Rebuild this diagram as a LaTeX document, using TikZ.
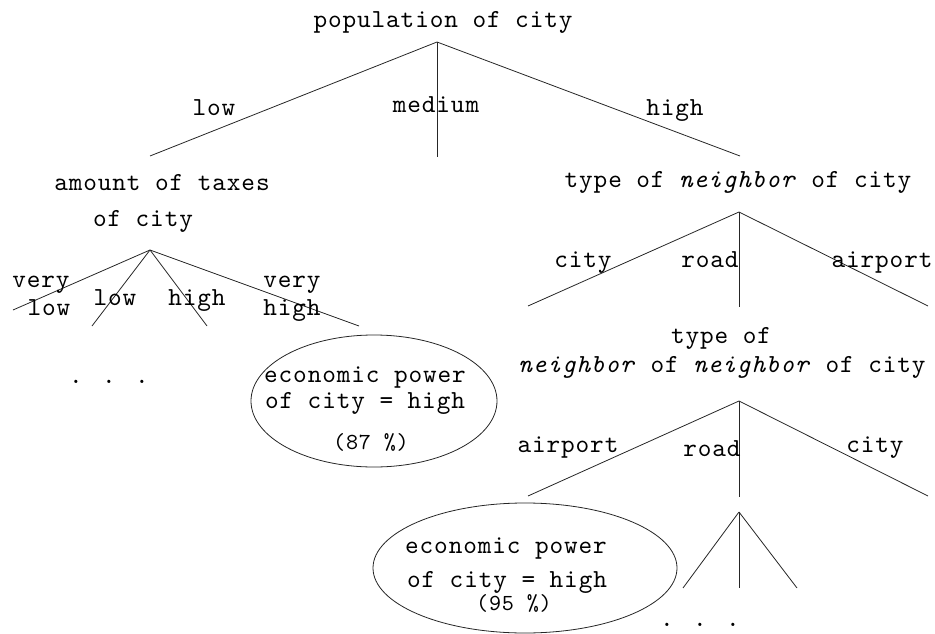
\documentclass[tikz,border=0pt]{standalone}
\usepackage{fontspec}
\newfontfamily\cour{lmmono10-regular.otf}[ItalicFont=lmmono10-italic.otf, LetterSpace=3.4]
\usetikzlibrary{shapes.geometric}
\begin{document}
\begin{tikzpicture}[x=1pt,y=-1pt,
  txt/.style={inner sep=0pt, text height=15pt, text depth=5pt, font=\cour\fontsize{26}{29}\selectfont},
  stxt/.style={inner sep=0pt, text height=14pt, text depth=5pt, font=\cour\fontsize{23}{26}\selectfont},
  edge/.style={draw=black!85, line width=0.8pt},
  leaf/.style={draw=black!85, line width=0.8pt, ellipse, inner sep=0pt}]
\useasboundingbox (0,0) rectangle (935,634);
% root
\node[txt] (root) at (443,23) {population of city};
\coordinate (r) at (437,42);
\coordinate (rL) at (150,156);
\coordinate (rM) at (437,157);
\coordinate (rR) at (740,156);
\draw[edge] (r) -- (rL);
\draw[edge] (r) -- (rM);
\draw[edge] (r) -- (rR);
\node[txt] (lblow) at (214,111) {low};
\node[txt] (lbmed) at (436,107) {medium};
\node[txt] (lbhigh) at (675,111) {high};
% left subtree
\node[txt] (tax1) at (162,185) {amount of taxes};
\node[txt] (tax2) at (143,221) {of city};
\coordinate (t) at (150,250);
\coordinate (tVL) at (13,310);
\coordinate (tL) at (92,326);
\coordinate (tH) at (207,326);
\coordinate (tVH) at (359,326);
\draw[edge] (t) -- (tVL);
\draw[edge] (t) -- (tL);
\draw[edge] (t) -- (tH);
\draw[edge] (t) -- (tVH);
\node[txt] (vl1) at (41,282) {very};
\node[txt] (vl2) at (49,310) {low};
\node[txt] (l) at (115,300) {low};
\node[txt] (h) at (197,300) {high};
\node[txt] (vh1) at (292,282) {very};
\node[txt] (vh2) at (292,310) {high};
\node[txt] (dots1) at (109,378) {. . .};
% leaf 1
\node[leaf, minimum width=246pt, minimum height=132pt] (e1) at (374,401) {};
\node[txt] (e1a) at (365,377) {economic power};
\node[txt] (e1b) at (365,403) {of city = high};
\node[stxt] (e1c) at (371,445) {(87 \%)};
% right subtree
\node[txt] (nb) at (738,182) {type of \textit{neighbor} of city};
\coordinate (n) at (739,212);
\coordinate (nC) at (528,306);
\coordinate (nR) at (739,307);
\coordinate (nA) at (928,306);
\draw[edge] (n) -- (nC);
\draw[edge] (n) -- (nR);
\draw[edge] (n) -- (nA);
\node[txt] (lbcity) at (583,262) {city};
\node[txt] (lbroad) at (710,262) {road};
\node[txt] (lbair) at (882,262) {airport};
% second level
\node[txt] (nn1) at (721,338) {type of};
\node[txt] (nn2) at (722,367) {\textit{neighbor} of \textit{neighbor} of city};
\coordinate (m) at (739,401);
\coordinate (mA) at (528,496);
\coordinate (mR) at (739,497);
\coordinate (mC) at (928,496);
\draw[edge] (m) -- (mA);
\draw[edge] (m) -- (mR);
\draw[edge] (m) -- (mC);
\node[txt] (lbair2) at (568,447) {airport};
\node[txt] (lbroad2) at (712,451) {road};
\node[txt] (lbcity2) at (875,447) {city};
% small subtree
\coordinate (s) at (739,512);
\coordinate (s1) at (683,588);
\coordinate (s2) at (739,588);
\coordinate (s3) at (797,588);
\draw[edge] (s) -- (s1);
\draw[edge] (s) -- (s2);
\draw[edge] (s) -- (s3);
\node[txt] (dots2) at (700,621) {. . .};
% leaf 2
\node[leaf, minimum width=304pt, minimum height=130pt] (e2) at (525,568) {};
\node[txt] (e2a) at (506,548) {economic power};
\node[txt] (e2b) at (507,582) {of city = high};
\node[stxt] (e2c) at (514,606) {(95 \%)};
\end{tikzpicture}
\end{document}
